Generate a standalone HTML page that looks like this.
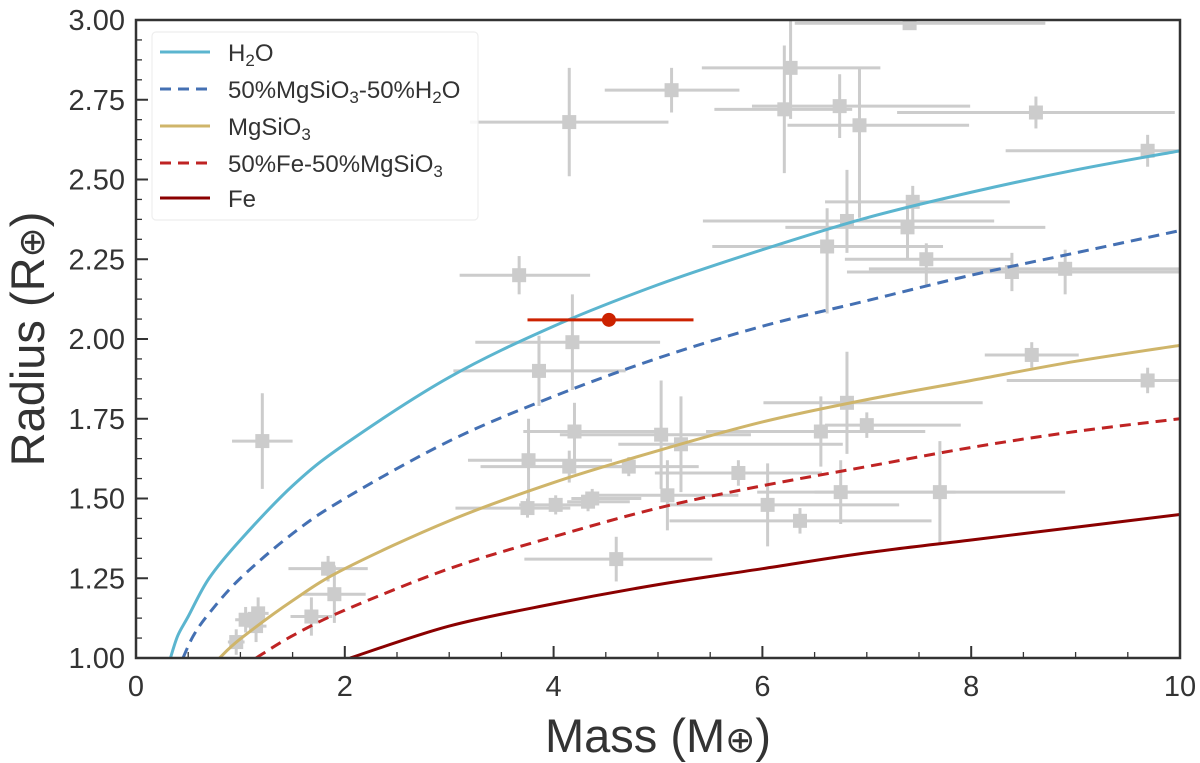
<!DOCTYPE html>
<html><head><meta charset="utf-8"><style>
body{margin:0;background:#fff;}
svg{display:block;font-family:"Liberation Sans","DejaVu Sans",sans-serif;}
</style></head><body>
<svg id="chart" width="1200" height="763" viewBox="0 0 1200 763" xmlns="http://www.w3.org/2000/svg"></svg>
<script>
// ---- data ----
const planetMass   = [1.21,0.96,1.05,1.17,1.15,1.84,1.90,1.68,3.67,4.15,5.13,3.86,4.18,3.76,3.75,4.02,4.20,4.15,4.37,4.33,4.60,4.72,5.03,5.09,5.22,5.77,6.05,6.36,6.81,6.56,7.00,6.75,7.70,8.58,9.69,6.27,7.41,6.21,6.74,6.93,8.62,9.69,7.44,6.81,7.39,6.62,7.57,8.39,8.90];
const planetRadius = [1.68,1.05,1.12,1.14,1.10,1.28,1.20,1.13,2.20,2.68,2.78,1.90,1.99,1.62,1.47,1.48,1.71,1.60,1.50,1.49,1.31,1.60,1.70,1.51,1.67,1.58,1.48,1.43,1.80,1.71,1.73,1.52,1.52,1.95,1.87,2.85,2.99,2.72,2.73,2.67,2.71,2.59,2.43,2.37,2.35,2.29,2.25,2.21,2.22];
const massErrLo    = [0.29,0.08,0.10,0.10,0.10,0.38,0.30,0.20,0.57,0.95,0.64,0.82,0.93,0.58,0.69,0.35,0.49,0.85,0.20,0.20,0.88,0.49,0.97,0.66,0.60,0.80,0.96,1.25,0.80,1.10,0.40,0.80,1.20,0.45,1.35,0.85,1.10,0.67,0.84,0.69,1.33,1.36,0.84,1.38,1.17,1.10,0.78,1.58,1.88];
const massErrHi    = [0.29,0.08,0.10,0.10,0.10,0.38,0.30,0.20,0.68,0.95,0.65,0.83,0.84,0.80,0.41,0.33,0.80,0.50,0.47,0.40,0.92,0.67,0.86,0.68,1.55,0.80,1.26,1.26,1.30,1.00,0.90,1.10,1.20,0.45,0.31,0.86,1.30,0.65,1.25,1.05,1.33,0.31,0.93,1.41,1.32,1.11,0.81,1.61,1.10];
const radErrLo     = [0.15,0.04,0.04,0.05,0.05,0.04,0.09,0.06,0.06,0.17,0.07,0.11,0.15,0.13,0.03,0.03,0.09,0.05,0.03,0.03,0.07,0.03,0.17,0.11,0.15,0.04,0.13,0.04,0.16,0.11,0.04,0.10,0.16,0.04,0.04,0.16,0.00,0.20,0.10,0.29,0.05,0.05,0.06,0.10,0.10,0.21,0.08,0.06,0.08];
const radErrHi     = [0.15,0.04,0.04,0.05,0.05,0.04,0.09,0.06,0.06,0.17,0.07,0.11,0.15,0.13,0.03,0.03,0.09,0.05,0.03,0.03,0.07,0.03,0.17,0.11,0.15,0.04,0.13,0.04,0.16,0.11,0.04,0.10,0.16,0.04,0.04,0.24,0.00,0.20,0.10,0.18,0.05,0.05,0.05,0.16,0.09,0.12,0.05,0.06,0.06];

const targetMass = [4.53], targetRadius = [2.06], targetMassErrLo = [0.78], targetMassErrHi = [0.81], targetRadErr = [0.02];

const h2oMass     = [0.33,0.4,0.5,0.7,1,1.5,2,3,4,5,6,7,8,9,10];
const h2oRadius   = [1.0,1.07,1.13,1.25,1.37,1.54,1.67,1.88,2.04,2.17,2.28,2.38,2.46,2.53,2.59];
const mixMass     = [0.45,0.55,0.7,1,1.5,2,3,4,5,6,7,8,9,10];
const mixRadius   = [1.0,1.07,1.14,1.25,1.39,1.50,1.68,1.82,1.94,2.04,2.12,2.20,2.27,2.34];
const rockMass    = [0.8,1,1.5,2,3,4,5,6,7,8,9,10];
const rockRadius  = [1.0,1.06,1.18,1.28,1.43,1.55,1.65,1.74,1.81,1.87,1.93,1.98];
const feRockMass  = [1.15,1.5,2,3,4,5,6,7,8,9,10];
const feRockRadius= [1.0,1.07,1.15,1.28,1.38,1.47,1.54,1.60,1.66,1.71,1.75];
const feMass      = [2.05,3,4,5,6,7,8,9,10];
const feRadius    = [1.0,1.10,1.17,1.23,1.28,1.33,1.37,1.41,1.45];

const xTicks = [0,2,4,6,8,10];
const xTickLabels = ["0","2","4","6","8","10"];
const yTicks = [1.0,1.25,1.5,1.75,2.0,2.25,2.5,2.75,3.0];
const yTickLabels = ["1.00","1.25","1.50","1.75","2.00","2.25","2.50","2.75","3.00"];

// ---- axes ----
const L=136,R=1180,T=20,B=658;
const X = m => L + (m-0)/(10-0)*(R-L);
const Y = r => B - (r-1)/(3-1)*(B-T);
const NS="http://www.w3.org/2000/svg";
const svg=document.getElementById('chart');
function mk(tag,attrs,parent){const e=document.createElementNS(NS,tag);for(const k in attrs)e.setAttribute(k,attrs[k]);(parent||svg).appendChild(e);return e;}

const clip=mk('clipPath',{id:'plotclip'});mk('rect',{x:L,y:T,width:R-L,height:B-T},clip);
const plot=mk('g',{'clip-path':'url(#plotclip)'});



for(let i=0;i<planetMass.length;i++){
  const g=mk('g',{},plot);
  
  
  const cx=X(planetMass[i]),cy=Y(planetRadius[i]);
  mk('line',{x1:X(planetMass[i]-massErrLo[i]),x2:X(planetMass[i]+massErrHi[i]),y1:cy,y2:cy,stroke:'#cccccc','stroke-width':3},g);
  mk('line',{x1:cx,x2:cx,y1:Y(planetRadius[i]-radErrLo[i]),y2:Y(planetRadius[i]+radErrHi[i]),stroke:'#cccccc','stroke-width':3},g);
  mk('rect',{x:cx-7,y:cy-7,width:14,height:14,fill:'#cccccc'},g);
}

const curves=[[h2oMass,h2oRadius,'#5bb5cf',''],[mixMass,mixRadius,'#4470b3','11,7'],[rockMass,rockRadius,'#cfb56a',''],[feRockMass,feRockRadius,'#bf2323','11,7'],[feMass,feRadius,'#8b0000','']];
const curveIds=['h2o-curve','mgsio3-h2o-curve','mgsio3-curve','fe-mgsio3-curve','fe-curve'];
function smoothPath(xs,ys){
  const p=xs.map((m,i)=>[X(m),Y(ys[i])]);
  let d='M'+p[0][0]+','+p[0][1];
  for(let i=0;i<p.length-1;i++){
    const p0=p[Math.max(0,i-1)],p1=p[i],p2=p[i+1],p3=p[Math.min(p.length-1,i+2)];
    const c1=[p1[0]+(p2[0]-p0[0])/6,p1[1]+(p2[1]-p0[1])/6];
    const c2=[p2[0]-(p3[0]-p1[0])/6,p2[1]-(p3[1]-p1[1])/6];
    d+=` C${c1[0]},${c1[1]} ${c2[0]},${c2[1]} ${p2[0]},${p2[1]}`;
  }
  return d;
}
curves.forEach((c,k)=>{
  const path=mk('path',{d:smoothPath(c[0],c[1]),fill:'none',stroke:c[2],'stroke-width':3,'stroke-dasharray':c[3]||'none'},plot);
  
  
});

{
  const g=mk('g',{},plot);
  
  
  const cx=X(targetMass[0]),cy=Y(targetRadius[0]);
  mk('line',{x1:X(targetMass[0]-targetMassErrLo[0]),x2:X(targetMass[0]+targetMassErrHi[0]),y1:cy,y2:cy,stroke:'#cc2200','stroke-width':3},g);
  mk('line',{x1:cx,x2:cx,y1:Y(targetRadius[0]-targetRadErr[0]),y2:Y(targetRadius[0]+targetRadErr[0]),stroke:'#cc2200','stroke-width':3},g);
  mk('circle',{cx:cx,cy:cy,r:7,fill:'#cc2200'},g);
}

const ax=mk('g',{});


for(let m=0;m<=10.001;m+=0.5){
  const major=Math.abs(m%2)<1e-6;
  mk('line',{x1:X(m),x2:X(m),y1:B,y2:B-(major?12:6),stroke:'#333','stroke-width':major?2:1.3},ax);
}
for(let r=1;r<=3.001;r+=0.0625){
  const major=Math.abs((r*4)-Math.round(r*4))<1e-6;
  mk('line',{x1:L,x2:L+(major?12:6),y1:Y(r),y2:Y(r),stroke:'#333','stroke-width':major?2:1.3},ax);
}
xTicks.forEach((v,i)=>{
  const t=mk('text',{x:X(v),y:B+38,'text-anchor':'middle','font-size':29,fill:'#333'},ax);
  t.textContent=xTickLabels[i];
  
  
});
yTicks.forEach((v,i)=>{
  const t=mk('text',{x:L-11,y:Y(v)+10,'text-anchor':'end','font-size':29,fill:'#333'},ax);
  t.textContent=yTickLabels[i];
  
  
});
mk('rect',{x:L,y:T,width:R-L,height:B-T,fill:'none',stroke:'#333','stroke-width':2.5},ax);
</script>
<svg style="position:absolute;left:0;top:0" width="1200" height="763" font-family="Liberation Sans, DejaVu Sans, sans-serif">
  <text x="658" y="752" text-anchor="middle" font-size="47" fill="#333">Mass (M<tspan font-family="DejaVu Sans" font-size="36">⊕</tspan>)</text>
  <text transform="translate(44,339) rotate(-90)" text-anchor="middle" font-size="47" fill="#333">Radius (R<tspan font-family="DejaVu Sans" font-size="36">⊕</tspan>)</text>
  <g font-size="24" fill="#333">
    <rect x="152" y="32" width="326" height="188" rx="4" fill="#fff" fill-opacity="0.85" stroke="#eeeeee" stroke-width="1.2"/>
    <g><line x1="160" y1="52" x2="210" y2="52" stroke="#5bb5cf" stroke-width="3"/><text x="228" y="61">H<tspan font-size="17" dy="5">2</tspan><tspan dy="-5">O</tspan></text></g>
    <g><line x1="160" y1="89" x2="210" y2="89" stroke="#4470b3" stroke-width="3" stroke-dasharray="11,7"/><text x="228" y="98">50%MgSiO<tspan font-size="17" dy="5">3</tspan><tspan dy="-5">-50%H</tspan><tspan font-size="17" dy="5">2</tspan><tspan dy="-5">O</tspan></text></g>
    <g><line x1="160" y1="126" x2="210" y2="126" stroke="#cfb56a" stroke-width="3"/><text x="228" y="135">MgSiO<tspan font-size="17" dy="5">3</tspan></text></g>
    <g><line x1="160" y1="163" x2="210" y2="163" stroke="#bf2323" stroke-width="3" stroke-dasharray="11,7"/><text x="228" y="172">50%Fe-50%MgSiO<tspan font-size="17" dy="5">3</tspan></text></g>
    <g><line x1="160" y1="198" x2="210" y2="198" stroke="#8b0000" stroke-width="3"/><text x="228" y="207">Fe</text></g>
  </g>
</svg>
</body></html>
